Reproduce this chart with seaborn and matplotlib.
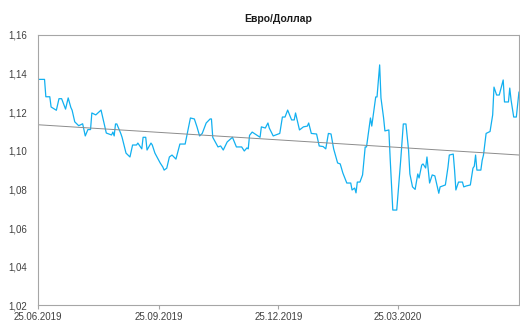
import numpy as np
import pandas as pd
import matplotlib
matplotlib.use("Agg")
import matplotlib.pyplot as plt
import matplotlib.dates as mdates
from matplotlib.ticker import FuncFormatter
import seaborn as sns

# курс евро/доллар: дни от 25.06.2019 и значения
start = "2019-06-25"
days = [0, 5, 6, 9, 10, 14, 16, 18, 21, 23, 25, 26, 28, 31, 34, 36, 38, 40, 41, 44,
        48, 52, 56, 57, 58, 59, 60, 63, 64, 67, 70, 72, 75, 76, 79, 80, 82, 83, 86, 87,
        89, 93, 95, 96, 98, 100, 102, 105, 108, 112, 116, 119, 121, 123, 125, 128, 131, 132, 133, 137,
        139, 141, 144, 148, 151, 155, 157, 159, 160, 161, 163, 169, 170, 173, 175, 176, 179, 184, 186, 188,
        190, 193, 195, 196, 199, 202, 205, 206, 208, 212, 214, 217, 219, 221, 223, 225, 228, 230, 232, 235,
        238, 239, 241, 242, 243, 245, 247, 248, 249, 250, 253, 254, 256, 257, 258, 260, 261, 263, 264, 267,
        268, 270, 273, 274, 276, 278, 280, 282, 283, 285, 287, 289, 290, 292, 293, 295, 296, 298, 300, 302,
        305, 306, 310, 312, 313, 316, 317, 318, 320, 323, 324, 326, 329, 331, 332, 333, 334, 337, 338, 339,
        341, 344, 346, 347, 349, 351, 354, 355, 358, 359, 360, 362, 364, 366]
rate = [1.137, 1.137, 1.128, 1.128, 1.1227, 1.121, 1.127, 1.127, 1.1216, 1.1274, 1.1225, 1.121, 1.115, 1.113, 1.114, 1.1077, 1.111, 1.111, 1.1196, 1.1186,
        1.1211, 1.1092, 1.1082, 1.1097, 1.1077, 1.1139, 1.1139, 1.109, 1.107, 1.0988, 1.0968, 1.103, 1.103, 1.104, 1.101, 1.107, 1.107, 1.1004, 1.104, 1.103,
        1.0988, 1.0937, 1.0916, 1.090, 1.091, 1.0968, 1.0978, 1.0957, 1.1035, 1.1035, 1.117, 1.1165, 1.1124, 1.1077, 1.109, 1.1144, 1.1165, 1.1165, 1.107, 1.102,
        1.1025, 1.1004, 1.1046, 1.107, 1.102, 1.102, 1.0999, 1.1015, 1.101, 1.108, 1.1097, 1.107, 1.1124, 1.1118, 1.1144, 1.1118, 1.1077, 1.109, 1.1175, 1.1175,
        1.1211, 1.116, 1.116, 1.1196, 1.1108, 1.1124, 1.1128, 1.1144, 1.109, 1.1087, 1.1025, 1.1022, 1.101, 1.109, 1.1087, 1.101, 1.0937, 1.0932, 1.0885, 1.0833,
        1.0833, 1.0797, 1.0807, 1.0782, 1.0838, 1.0838, 1.0875, 1.095, 1.102, 1.102, 1.117, 1.1128, 1.1227, 1.1279, 1.1279, 1.1445, 1.1274, 1.117, 1.1103, 1.1108,
        1.096, 1.0693, 1.0693, 1.078, 1.095, 1.1139, 1.1139, 1.1004, 1.088, 1.0813, 1.080, 1.088, 1.0859, 1.0926, 1.0932, 1.0911, 1.0968, 1.0833, 1.0875, 1.087,
        1.078, 1.0813, 1.0823, 1.0916, 1.0978, 1.0983, 1.090, 1.0797, 1.0838, 1.0838, 1.0813, 1.0818, 1.0823, 1.091, 1.092, 1.0978, 1.090, 1.090, 1.095, 1.0978,
        1.109, 1.110, 1.1186, 1.133, 1.1289, 1.1289, 1.1367, 1.1253, 1.1253, 1.1325, 1.1263, 1.1175, 1.1175, 1.1305]
tick_dates = ["2019-06-25", "2019-09-25", "2019-12-25", "2020-03-25"]
y_ticks = [1.02, 1.04, 1.06, 1.08, 1.10, 1.12, 1.14, 1.16]

dates = pd.Timestamp(start) + pd.to_timedelta(days, unit="D")
x = mdates.date2num(dates)

sns.set_theme(style="white")
plt.rcParams['font.family'] = ['Liberation Sans', 'DejaVu Sans']

fig = plt.figure(figsize=(5.2, 3.24), dpi=100)
ax = fig.add_axes([0.073, 0.058, 0.925, 0.834])

sns.lineplot(x=x, y=rate, ax=ax, color='#12B0F0', linewidth=0.9)
sns.regplot(x=x, y=rate, ax=ax, scatter=False, ci=None,
            line_kws={'color': '#8c8c8c', 'linewidth': 0.7})

ax.set_xlim(mdates.date2num(pd.Timestamp("2019-06-25")), mdates.date2num(pd.Timestamp("2020-06-25")))
ax.set_ylim(1.02, 1.16)
ax.set_yticks(y_ticks)
ax.yaxis.set_major_formatter(FuncFormatter(lambda v, p: f"{v:.2f}".replace('.', ',')))
ax.set_xticks(mdates.date2num(pd.to_datetime(tick_dates)))
ax.xaxis.set_major_formatter(mdates.DateFormatter('%d.%m.%Y'))
ax.set_xlabel('')
ax.set_ylabel('')

for s in ax.spines.values():
    s.set_color('#a6a6a6')
    s.set_linewidth(0.8)
ax.tick_params(axis='x', length=3, width=0.8, color='#a6a6a6', labelsize=7, labelcolor='#404040', pad=2, direction='out', bottom=True)
ax.tick_params(axis='y', length=0, labelsize=7, labelcolor='#404040', pad=8)

ax.set_title('Евро/Доллар', fontsize=7.5, fontweight='bold', color='#1a1a1a', pad=9)

fig.savefig('out.png', dpi=100)
